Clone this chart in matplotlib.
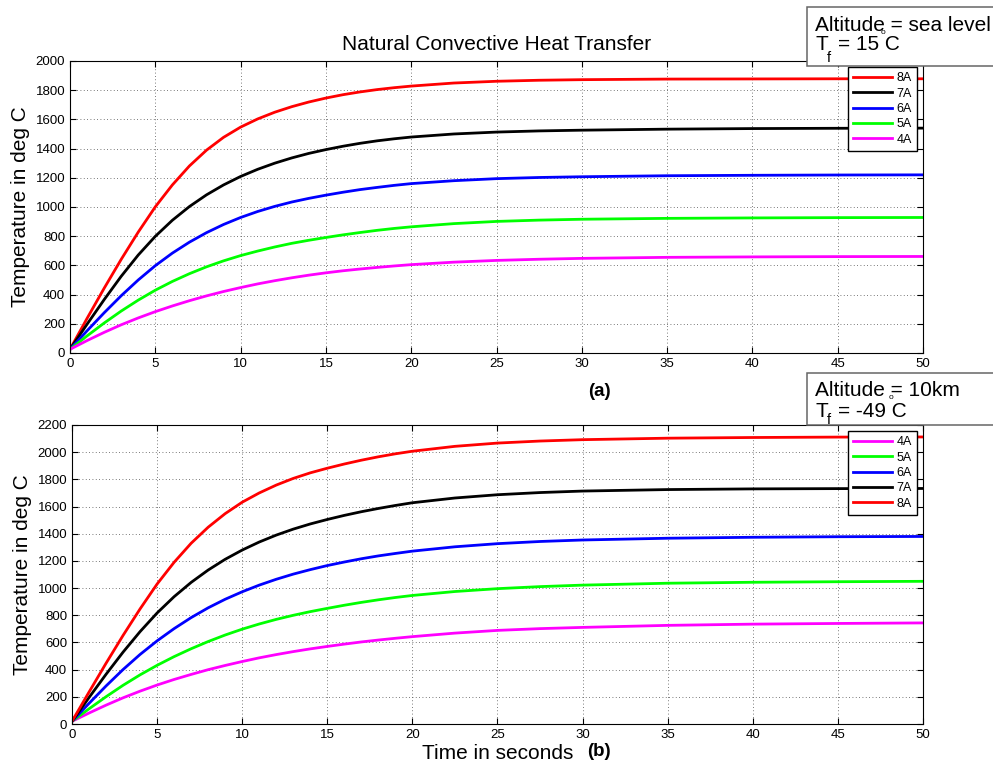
import numpy as np
import matplotlib
matplotlib.use('Agg')
import matplotlib.pyplot as plt
from matplotlib.patches import Rectangle

plt.rcParams['font.family'] = ['Liberation Sans', 'DejaVu Sans']

# time samples in seconds
t = [0, 1, 2, 3, 4, 5, 6, 7, 8, 9, 10, 11, 12, 13, 14, 15, 16, 17, 18, 19, 20,
     22.5, 25, 27.5, 30, 35, 40, 45, 50]

# (a) sea level, Tf = 15 C
sea_8A = [25, 237, 443, 641, 828, 1001, 1151, 1281, 1389, 1477, 1547, 1603, 1649, 1687, 1719, 1746,
          1769, 1788, 1804, 1817, 1828, 1849, 1861, 1868, 1872, 1876, 1877, 1878, 1878]
sea_7A = [25, 197, 365, 525, 671, 799, 909, 1003, 1083, 1151, 1209, 1258, 1300, 1336, 1367, 1393,
          1416, 1436, 1453, 1467, 1479, 1500, 1513, 1521, 1526, 1533, 1537, 1539, 1540]
sea_6A = [25, 152, 275, 392, 500, 598, 684, 759, 824, 880, 928, 969, 1004, 1034, 1059, 1081,
          1101, 1119, 1134, 1148, 1160, 1180, 1194, 1202, 1207, 1214, 1217, 1219, 1220]
sea_5A = [25, 117, 205, 287, 362, 430, 490, 543, 590, 631, 667, 698, 726, 751, 772, 791,
          809, 825, 840, 853, 864, 886, 901, 910, 916, 922, 925, 927, 928]
sea_4A = [25, 85, 141, 193, 240, 283, 322, 358, 391, 421, 448, 473, 495, 515, 533, 549,
          563, 575, 586, 596, 605, 622, 634, 642, 648, 655, 658, 660, 661]

# (b) 10 km, Tf = -49 C
alt_8A = [20, 235, 447, 652, 847, 1030, 1190, 1330, 1448, 1548, 1632, 1700, 1758, 1807, 1848, 1882,
          1913, 1941, 1966, 1988, 2007, 2043, 2067, 2082, 2092, 2103, 2108, 2111, 2112]
alt_7A = [20, 195, 366, 529, 680, 817, 937, 1042, 1133, 1212, 1280, 1339, 1390, 1434, 1472, 1505,
          1535, 1562, 1586, 1608, 1628, 1663, 1687, 1703, 1714, 1725, 1730, 1732, 1733]
alt_6A = [20, 152, 280, 401, 512, 612, 702, 783, 855, 918, 973, 1022, 1065, 1103, 1136, 1166,
          1192, 1216, 1237, 1255, 1272, 1304, 1327, 1343, 1354, 1367, 1374, 1378, 1380]
alt_5A = [20, 112, 201, 285, 362, 432, 496, 554, 607, 655, 698, 736, 770, 800, 827, 851,
          874, 895, 914, 931, 946, 975, 996, 1011, 1022, 1036, 1043, 1047, 1050]
alt_4A = [20, 81, 139, 193, 242, 287, 328, 365, 400, 431, 460, 487, 511, 533, 553, 571,
          588, 604, 618, 631, 643, 669, 689, 702, 711, 726, 735, 740, 744]

colors = {'8A': '#ff0000', '7A': '#000000', '6A': '#0000ff', '5A': '#00ff00', '4A': '#ff00ff'}


def style_axes(ax, ymax):
    ax.set_xlim(0, 50)
    ax.set_ylim(0, ymax)
    ax.set_xticks(np.arange(0, 51, 5))
    ax.set_yticks(np.arange(0, ymax + 1, 200))
    ax.tick_params(direction='in', top=True, right=True, length=4, labelsize=9.5, width=0.8)
    ax.grid(True, color='0.3', linestyle=(0, (1, 3)), linewidth=0.6)
    for s in ax.spines.values():
        s.set_linewidth(0.8)
    ax.set_ylabel('Temperature in deg C', fontsize=15)
    ax.yaxis.set_label_coords(-0.047, 0.5)


def info_box(fig, top_px, bottom_px, line1, base1, base2, tf_text, f_base, deg_xy):
    W, H = 993.0, 767.0
    fig.patches.append(Rectangle((807 / W, 1 - bottom_px / H), 0.3, (bottom_px - top_px) / H,
                                 transform=fig.transFigure, facecolor='white',
                                 edgecolor='0.4', linewidth=1.1, zorder=5))
    fig.text(815 / W, 1 - base1 / H, line1, fontsize=15, va='baseline', zorder=6)
    fig.text(815 / W, 1 - base2 / H, 'T', fontsize=15, va='baseline', zorder=6)
    fig.text(827 / W, 1 - f_base / H, 'f', fontsize=10.5, va='baseline', zorder=6)
    fig.text(838 / W, 1 - base2 / H, tf_text, fontsize=15, va='baseline', zorder=6)
    # degree mark sits low, next to the first line
    fig.text(deg_xy[0] / W, 1 - deg_xy[1] / H, 'o', fontsize=6, ha='center', va='center', zorder=6)


fig = plt.figure(figsize=(9.93, 7.67), dpi=100)
ax1 = fig.add_axes([0.0705, 0.5398, 0.8590, 0.3807])
ax2 = fig.add_axes([0.0725, 0.0560, 0.8570, 0.3899])

# top panel
for lab, y in [('8A', sea_8A), ('7A', sea_7A), ('6A', sea_6A), ('5A', sea_5A), ('4A', sea_4A)]:
    ax1.plot(t, y, color=colors[lab], linewidth=2, label=lab, solid_joinstyle='round')
style_axes(ax1, 2000)
ax1.set_title('Natural Convective Heat Transfer', fontsize=15, pad=8)

# bottom panel
for lab, y in [('4A', alt_4A), ('5A', alt_5A), ('6A', alt_6A), ('7A', alt_7A), ('8A', alt_8A)]:
    ax2.plot(t, y, color=colors[lab], linewidth=2, label=lab, solid_joinstyle='round')
style_axes(ax2, 2200)
ax2.set_xlabel('Time in seconds', fontsize=15)
ax2.xaxis.set_label_coords(0.5, -0.068)

for ax in (ax1, ax2):
    leg = ax.legend(loc='upper right', fontsize=9, fancybox=False, framealpha=1,
                    edgecolor='black', borderaxespad=0.45, handlelength=3.1,
                    handletextpad=0.35, labelspacing=0.27, borderpad=0.45)
    leg.get_frame().set_linewidth(1.0)

fig.text(599 / 993, 1 - 392 / 767, '(a)', fontsize=13.5, fontweight='bold', ha='center', va='center')
fig.text(599 / 993, 1 - 751 / 767, '(b)', fontsize=13.5, fontweight='bold', ha='center', va='center')

info_box(fig, 7, 66, 'Altitude = sea level', 31, 50, '= 15 C', 62, (883, 32))
info_box(fig, 373, 425, 'Altitude = 10km', 396, 417, '= -49 C', 424, (891, 397.5))

fig.savefig('out.png', dpi=100)
